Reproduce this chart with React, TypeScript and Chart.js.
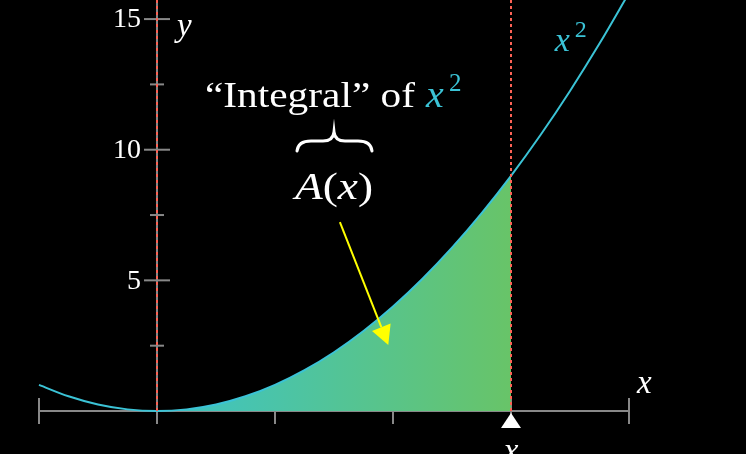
import React, { useEffect, useRef } from "react";
import { Chart, registerables } from "chart.js";

Chart.register(...registerables);

// Curve y = x^2 values, read at quarter steps
const curveX = [-1, -0.75, -0.5, -0.25, 0, 0.25, 0.5, 0.75, 1, 1.25, 1.5, 1.75, 2, 2.25, 2.5, 2.75, 3, 3.25, 3.5, 3.75, 4];
const curveY = [1, 0.5625, 0.25, 0.0625, 0, 0.0625, 0.25, 0.5625, 1, 1.5625, 2.25, 3.0625, 4, 5.0625, 6.25, 7.5625, 9, 10.5625, 12.25, 14.0625, 16];
// Shaded area under the curve from 0 to 3
const areaX = [0, 0.25, 0.5, 0.75, 1, 1.25, 1.5, 1.75, 2, 2.25, 2.5, 2.75, 3];
const areaY = [0, 0.0625, 0.25, 0.5625, 1, 1.5625, 2.25, 3.0625, 4, 5.0625, 6.25, 7.5625, 9];

const xTicks = [-1, 0, 1, 2, 3, 4];
const yTicks = [2.5, 5, 7.5, 10, 12.5, 15];
const yTickLabels = ["", "5", "", "10", "", "15"];
const xMarker = 3;

const X_MIN = -1.3305;
const X_MAX = 4.9915;
const Y_MIN = -1.6456;
const Y_MAX = 15.73;

const CYAN = "#3BC3D6";
const RED = "#FC6255";
const GREY = "#888888";
const SERIF = "'Liberation Serif', 'DejaVu Serif', serif";

export default function App() {
  const ref = useRef<HTMLCanvasElement | null>(null);

  useEffect(() => {
    const canvas = ref.current;
    if (!canvas) return;

    const decor = {
      id: "decor",
      beforeDatasetsDraw(chart: any) {
        const { ctx, scales } = chart;
        const xs = scales.x, ys = scales.y;
        const px = (v: number) => xs.getPixelForValue(v);
        const py = (v: number) => ys.getPixelForValue(v);
        ctx.save();
        ctx.strokeStyle = GREY;
        ctx.lineWidth = 2;
        // x axis
        ctx.beginPath();
        ctx.moveTo(px(xTicks[0]), py(0));
        ctx.lineTo(px(xTicks[xTicks.length - 1]), py(0));
        ctx.stroke();
        xTicks.forEach((t) => {
          ctx.beginPath();
          ctx.moveTo(px(t), py(0) - 13);
          ctx.lineTo(px(t), py(0) + 13);
          ctx.stroke();
        });
        // y axis
        ctx.beginPath();
        ctx.moveTo(px(0), py(0));
        ctx.lineTo(px(0), 0);
        ctx.stroke();
        yTicks.forEach((t, i) => {
          const long = yTickLabels[i] !== "";
          const w = long ? 13 : 7;
          ctx.beginPath();
          ctx.moveTo(px(0) - w, py(t));
          ctx.lineTo(px(0) + w, py(t));
          ctx.stroke();
        });
        ctx.fillStyle = "#ffffff";
        ctx.font = `28px ${SERIF}`;
        ctx.textAlign = "right";
        ctx.textBaseline = "middle";
        yTicks.forEach((t, i) => {
          if (yTickLabels[i]) ctx.fillText(yTickLabels[i], px(0) - 16, py(t) + 1);
        });
        ctx.restore();
      },
      afterDatasetsDraw(chart: any) {
        const { ctx, scales } = chart;
        const xs = scales.x, ys = scales.y;
        const px = (v: number) => xs.getPixelForValue(v);
        const py = (v: number) => ys.getPixelForValue(v);
        ctx.save();
        // red dashed lines
        ctx.strokeStyle = RED;
        ctx.lineWidth = 2;
        ctx.setLineDash([3, 3]);
        [0, xMarker].forEach((v) => {
          ctx.beginPath();
          ctx.moveTo(px(v), py(0));
          ctx.lineTo(px(v), 0);
          ctx.stroke();
        });
        ctx.setLineDash([]);
        // triangle marker
        const mx = px(xMarker);
        const my = py(0);
        ctx.fillStyle = "#ffffff";
        ctx.beginPath();
        ctx.moveTo(mx, my + 2);
        ctx.lineTo(mx - 10, my + 17);
        ctx.lineTo(mx + 10, my + 17);
        ctx.closePath();
        ctx.fill();
        // labels
        ctx.textAlign = "left";
        ctx.textBaseline = "alphabetic";
        ctx.font = `italic 33px ${SERIF}`;
        ctx.fillText("y", px(0) + 20, py(15) + 17);
        ctx.fillText("x", px(4) + 8, py(0) - 18);
        ctx.textAlign = "center";
        ctx.fillText("x", mx, my + 50);
        // x^2 label near curve
        ctx.fillStyle = CYAN;
        ctx.textAlign = "left";
        ctx.font = `italic 34px ${SERIF}`;
        ctx.fillText("x", px(3.38) - 1, py(13.8) + 1);
        ctx.font = `24px ${SERIF}`;
        ctx.fillText("2", px(3.38) + 19, py(13.8) - 13);

        // title: "Integral" of x^2  (horizontally stretched to match CM width)
        const t1 = "\u201CIntegral\u201D of";
        const baseY = 107;
        ctx.fillStyle = "#ffffff";
        ctx.font = `36px ${SERIF}`;
        const w1 = ctx.measureText(t1).width;
        const s1 = 210 / w1;
        ctx.save();
        ctx.translate(205, baseY);
        ctx.scale(s1, 1);
        ctx.fillText(t1, 0, 0);
        ctx.restore();
        ctx.fillStyle = CYAN;
        ctx.font = `italic 37px ${SERIF}`;
        ctx.save();
        ctx.translate(426, baseY);
        ctx.scale(1.08, 1);
        ctx.fillText("x", 0, 0);
        ctx.restore();
        ctx.font = `25px ${SERIF}`;
        ctx.fillText("2", 449, baseY - 16);

        // brace
        ctx.strokeStyle = "#ffffff";
        ctx.fillStyle = "#ffffff";
        ctx.lineWidth = 3;
        ctx.lineCap = "round";
        const bl = 297, br = 372, bm = 334, bTop = 132, bBot = 151;
        const mid = bTop + 9;
        ctx.beginPath();
        ctx.moveTo(bl, bBot);
        ctx.quadraticCurveTo(bl + 1, mid, bl + 14, mid);
        ctx.lineTo(bm - 11, mid);
        ctx.quadraticCurveTo(bm - 1, mid, bm, bTop);
        ctx.quadraticCurveTo(bm + 1, mid, bm + 11, mid);
        ctx.lineTo(br - 14, mid);
        ctx.quadraticCurveTo(br - 1, mid, br, bBot);
        ctx.stroke();

        // A(x)
        ctx.fillStyle = "#ffffff";
        ctx.font = `italic 38px ${SERIF}`;
        const partA = ctx.measureText("A").width;
        const xW = ctx.measureText("x").width;
        ctx.font = `38px ${SERIF}`;
        const paren = ctx.measureText("(").width;
        const total = partA + paren + xW + paren;
        const sA = 78 / total;
        const ay = 199;
        ctx.save();
        ctx.translate(295, ay);
        ctx.scale(sA, 1);
        ctx.textAlign = "left";
        let cx = 0;
        ctx.font = `italic 38px ${SERIF}`;
        ctx.fillText("A", cx, 0); cx += partA;
        ctx.font = `38px ${SERIF}`;
        ctx.fillText("(", cx, 0); cx += paren;
        ctx.font = `italic 38px ${SERIF}`;
        ctx.fillText("x", cx, 0); cx += xW;
        ctx.font = `38px ${SERIF}`;
        ctx.fillText(")", cx, 0);
        ctx.restore();

        // yellow arrow
        const ax0 = px(1.55), ay0 = py(7.23);
        const ax1 = px(1.96), ay1 = py(2.53);
        const ang = Math.atan2(ay1 - ay0, ax1 - ax0);
        const hl = 19, hw = 10;
        const bx = ax1 - hl * Math.cos(ang), by = ay1 - hl * Math.sin(ang);
        ctx.strokeStyle = "#FFFF00";
        ctx.fillStyle = "#FFFF00";
        ctx.lineWidth = 2;
        ctx.lineCap = "butt";
        ctx.beginPath();
        ctx.moveTo(ax0, ay0);
        ctx.lineTo(bx, by);
        ctx.stroke();
        ctx.beginPath();
        ctx.moveTo(ax1, ay1);
        ctx.lineTo(bx + hw * Math.sin(ang), by - hw * Math.cos(ang));
        ctx.lineTo(bx - hw * Math.sin(ang), by + hw * Math.cos(ang));
        ctx.closePath();
        ctx.fill();
        ctx.restore();
      },
    };

    const chart = new Chart(canvas, {
      type: "line",
      data: {
        datasets: [
          {
            label: "x^2",
            data: curveX.map((x, i) => ({ x, y: curveY[i] })),
            borderColor: CYAN,
            borderWidth: 2,
            pointRadius: 0,
            cubicInterpolationMode: "monotone",
            fill: false,
            order: 0,
          } as any,
          {
            label: "area",
            data: areaX.map((x, i) => ({ x, y: areaY[i] })),
            borderWidth: 0,
            borderColor: "rgba(0,0,0,0)",
            pointRadius: 0,
            cubicInterpolationMode: "monotone",
            fill: "origin",
            order: 1,
            backgroundColor: (c: any) => {
              const ch = c.chart;
              const xs = ch.scales?.x;
              if (!xs) return "#50C4A0";
              const a = xs.getPixelForValue(0);
              const b = xs.getPixelForValue(3);
              if (!isFinite(a) || !isFinite(b) || a === b) return "#50C4A0";
              const g = ch.ctx.createLinearGradient(a, 0, b, 0);
              g.addColorStop(0, "#3CC4C8");
              g.addColorStop(1, "#68C468");
              return g;
            },
          } as any,
        ],
      },
      options: {
        animation: false,
        responsive: false,
        maintainAspectRatio: false,
        layout: { padding: 0 },
        plugins: { legend: { display: false }, tooltip: { enabled: false } },
        scales: {
          x: { type: "linear", min: X_MIN, max: X_MAX, display: false },
          y: { type: "linear", min: Y_MIN, max: Y_MAX, display: false },
        },
      },
      plugins: [decor],
    });
    return () => chart.destroy();
  }, []);

  return (
    <div style={{ position: "fixed", left: 0, top: 0, width: 746, height: 454, background: "#000" }}>
      <canvas ref={ref} width={746} height={454} style={{ display: "block", width: 746, height: 454 }} />
    </div>
  );
}
